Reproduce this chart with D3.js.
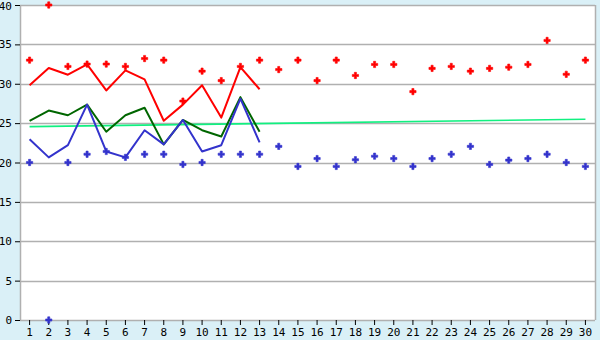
<!DOCTYPE html>
<html><head><meta charset="utf-8">
<script src="https://cdn.jsdelivr.net/npm/d3@7/dist/d3.min.js"></script>
<style>body{margin:0;background:#daf0f7;}svg{display:block;}</style>
</head><body>
<svg id="c" width="600" height="340"></svg>
<script>
const days = d3.range(1, 31);
const yTicks = [0,5,10,15,20,25,30,35,40];
const redLine = [29.8,32.0,31.15,32.45,29.15,31.7,30.55,25.3,27.35,29.8,25.7,32.1,29.3];
const greenLine = [25.3,26.6,26.0,27.35,23.9,26.0,26.95,22.3,25.4,24.1,23.3,28.3,23.9];
const blueLine = [22.95,20.65,22.2,27.35,21.4,20.65,24.1,22.3,25.4,21.4,22.2,28.1,22.55];
const redPts = [33,40,32.2,32.5,32.5,32.2,33.2,33,27.8,31.6,30.4,32.2,33,31.8,33,30.4,33,31.05,32.45,32.45,29,31.95,32.2,31.6,31.95,32.1,32.45,35.5,31.2,33];
const bluePts = [20,0,20,21.05,21.4,20.65,21.05,21.05,19.75,20,21.05,21.05,21.05,22.05,19.5,20.5,19.5,20.35,20.8,20.5,19.5,20.5,21.05,22.05,19.75,20.3,20.5,21.05,20,19.5];
const trendDays = [1,30];
const trendVals = [24.55,25.5];

const svg = d3.select("#c");
const L=20, R=595, T=5, B=320;
const x = d3.scaleBand().domain(days).range([L,R]);
const cx = d => x(d) + x.bandwidth()/2;
const y = d3.scaleLinear().domain([0,40]).range([B,T]);

svg.append("rect").attr("x",0).attr("y",0).attr("width",600).attr("height",340).attr("fill","#daf0f7");
svg.append("rect").attr("x",L).attr("y",T).attr("width",R-L).attr("height",B-T).attr("fill","#fff");

svg.append("g").selectAll("line").data(yTicks).join("line")
  .attr("x1",L).attr("x2",R).attr("y1",d=>Math.round(y(d))+0.5).attr("y2",d=>Math.round(y(d))+0.5)
  .attr("stroke","#b0b0b0").attr("stroke-width",1.5);
svg.append("line").attr("x1",R+0.5).attr("x2",R+0.5).attr("y1",T).attr("y2",B).attr("stroke","#b0b0b0").attr("stroke-width",1.5);
svg.append("line").attr("x1",L+0.5).attr("x2",L+0.5).attr("y1",T).attr("y2",B).attr("stroke","#b0b0b0").attr("stroke-width",1.5);

const yAxis = d3.axisLeft(y).tickValues(yTicks).tickSize(5).tickPadding(3);
const gy = svg.append("g").attr("transform",`translate(${L},0)`).call(yAxis);
gy.select(".domain").remove();
gy.selectAll(".tick line").attr("stroke","#000");
gy.selectAll("text").attr("font-family","DejaVu Sans Mono, monospace").attr("font-size",11).attr("fill","#000");
gy.selectAll(".tick").filter(d=>d===40).select("text").attr("dy","0.4em");

const xAxis = d3.axisBottom(x).tickSize(5).tickPadding(3);
const gx = svg.append("g").attr("transform",`translate(0,${B})`).call(xAxis);
gx.select(".domain").remove();
gx.selectAll(".tick line").attr("stroke","#000");
gx.selectAll("text").attr("font-family","DejaVu Sans Mono, monospace").attr("font-size",11).attr("fill","#000");

svg.append("path").datum(trendDays.map((d,i)=>[d,trendVals[i]]))
  .attr("d", d3.line().x(d=>cx(d[0])).y(d=>y(d[1])))
  .attr("fill","none").attr("stroke","#11f080").attr("stroke-width",1.6);

const line = d3.line().x((d,i)=>cx(days[i])).y(d=>y(d));
[[greenLine,"#006600"],[blueLine,"#3333cc"],[redLine,"#ff0000"]].forEach(([arr,col])=>{
  svg.append("path").datum(arr).attr("d",line).attr("fill","none").attr("stroke",col).attr("stroke-width",2).attr("stroke-linejoin","round");
});

const sym = d3.symbol().type(d3.symbolCross).size(22);
[[redPts,"#ff0000"],[bluePts,"#3333cc"]].forEach(([arr,col])=>{
  svg.append("g").selectAll("path").data(arr).join("path")
    .attr("d",sym).attr("transform",(d,i)=>`translate(${cx(days[i])},${y(d)})`)
    .attr("fill",col).attr("stroke",col).attr("stroke-width",0.6);
});
</script>
</body></html>
